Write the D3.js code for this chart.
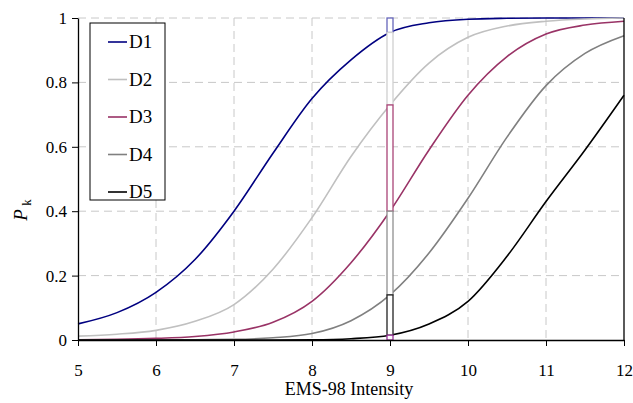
<!DOCTYPE html>
<html>
<head>
<meta charset="utf-8">
<script src="https://cdn.jsdelivr.net/npm/d3@7"></script>
<style>
  body { margin: 0; background: #fff; }
</style>
</head>
<body>
<div id="chart"></div>
<script>
// intensity values where the curves were read
const intensity = [5, 5.5, 6, 6.5, 7, 7.5, 8, 8.5, 9, 9.5, 10, 10.5, 11, 11.5, 12];
const seriesNames = ["D1", "D2", "D3", "D4", "D5"];
const d1 = [0.05, 0.085, 0.148, 0.25, 0.40, 0.58, 0.75, 0.87, 0.955, 0.985, 0.996, 0.999, 1, 1, 1];
const d2 = [0.012, 0.018, 0.03, 0.058, 0.11, 0.22, 0.38, 0.57, 0.73, 0.86, 0.94, 0.975, 0.99, 0.997, 1];
const d3v = [0.001, 0.002, 0.005, 0.011, 0.025, 0.055, 0.12, 0.24, 0.40, 0.59, 0.76, 0.88, 0.95, 0.978, 0.99];
const d4 = [0, 0, 0, 0.001, 0.002, 0.007, 0.02, 0.06, 0.14, 0.27, 0.44, 0.63, 0.79, 0.89, 0.945];
const d5 = [0, 0, 0, 0, 0, 0, 0.0005, 0.004, 0.015, 0.05, 0.12, 0.26, 0.43, 0.59, 0.76];
const seriesValues = [d1, d2, d3v, d4, d5];
const xTicks = [5, 6, 7, 8, 9, 10, 11, 12];
const yTicks = [0, 0.2, 0.4, 0.6, 0.8, 1];
const barAt = 9;

const colors = ["#000080", "#c0c0c0", "#993366", "#808080", "#000000"];
const serif = "'Liberation Serif', 'Times New Roman', Times, 'DejaVu Serif', serif";

const width = 633, height = 403;
const margin = { top: 18, right: 9, bottom: 63, left: 78 };
const w = width - margin.left - margin.right;
const h = height - margin.top - margin.bottom;

const svg = d3.select("#chart").append("svg")
  .attr("width", width).attr("height", height)
  .style("font-family", serif);

const x = d3.scaleLinear().domain([5, 12]).range([0, w]);
const y = d3.scaleLinear().domain([0, 1]).range([h, 0]);

const g = svg.append("g").attr("transform", `translate(${margin.left},${margin.top})`);

// grid
g.selectAll(".vgrid").data(xTicks.slice(1, -1)).enter().append("line")
  .attr("x1", d => x(d)).attr("x2", d => x(d)).attr("y1", 0).attr("y2", h)
  .attr("stroke", "#c8c8c8").attr("stroke-dasharray", "8,5");
g.selectAll(".hgrid").data(yTicks.slice(1)).enter().append("line")
  .attr("x1", 0).attr("x2", w).attr("y1", d => y(d)).attr("y2", d => y(d))
  .attr("stroke", "#c8c8c8").attr("stroke-dasharray", "8,5");

// curves
const line = d3.line()
  .x((d, i) => x(intensity[i]))
  .y(d => y(d))
  .curve(d3.curveMonotoneX);

seriesValues.forEach((vals, k) => {
  g.append("path").datum(vals)
    .attr("fill", "none")
    .attr("stroke", colors[k])
    .attr("stroke-width", 1.6)
    .attr("d", line);
});

// stacked bar at intensity 9
const idx = intensity.indexOf(barAt);
const bounds = [1].concat(seriesValues.map(v => v[idx])).concat([0]);
const barColors = ["#6666bb", "#cfcfcf", "#aa4477", "#909090", "#222222", "#993399"];
for (let k = 0; k < bounds.length - 1; k++) {
  g.append("rect")
    .attr("x", x(barAt) - 3)
    .attr("width", 6)
    .attr("y", y(bounds[k]))
    .attr("height", y(bounds[k + 1]) - y(bounds[k]))
    .attr("fill", "white")
    .attr("stroke", barColors[k])
    .attr("stroke-width", 1.3);
}

// axes
const xAxis = g.append("g").attr("transform", `translate(0,${h})`)
  .call(d3.axisBottom(x).tickValues(xTicks).tickSize(6).tickSizeOuter(0).tickFormat(d3.format("d")));
const yAxis = g.append("g")
  .call(d3.axisLeft(y).tickValues(yTicks).tickSize(6).tickSizeOuter(0).tickFormat(d => d === 0 || d === 1 ? d : d3.format(".1f")(d)));

[xAxis, yAxis].forEach(a => {
  a.attr("font-family", null).attr("font-size", null);
  a.select(".domain").attr("stroke", "#000").attr("stroke-width", 1.3);
  a.selectAll(".tick line").attr("stroke", "#000").attr("stroke-width", 1);
  a.selectAll(".tick text").attr("fill", "#000")
    .style("font-family", serif).style("font-size", "17px");
});
xAxis.selectAll(".tick text").attr("y", 24);
yAxis.selectAll(".tick text").attr("x", -11);

// right border
g.append("line").attr("x1", w).attr("x2", w).attr("y1", 0).attr("y2", h)
  .attr("stroke", "#000").attr("stroke-width", 1.3);

// axis titles
svg.append("text")
  .attr("x", margin.left + w / 2 - 2).attr("y", 395)
  .attr("text-anchor", "middle")
  .style("font-family", serif).style("font-size", "18px")
  .text("EMS-98 Intensity");

const yt = svg.append("text")
  .attr("transform", "translate(27,210) rotate(-90)")
  .attr("text-anchor", "middle")
  .style("font-family", serif).style("font-size", "19px");
yt.append("tspan").style("font-style", "italic").text("P");
yt.append("tspan").style("font-size", "13px").attr("dy", 4).text(" k");

// legend
const legend = g.append("g").attr("transform", "translate(12,5)");
legend.append("rect")
  .attr("width", 75).attr("height", 177)
  .attr("fill", "white").attr("stroke", "#000").attr("stroke-width", 1);
const items = legend.selectAll(".item").data(seriesNames).enter().append("g")
  .attr("transform", (d, i) => `translate(0,${19 + i * 37.5})`);
items.append("line")
  .attr("x1", 18).attr("x2", 37).attr("y1", 0).attr("y2", 0)
  .attr("stroke", (d, i) => colors[i]).attr("stroke-width", 1.6);
items.append("text")
  .attr("x", 39).attr("y", 6)
  .style("font-family", serif).style("font-size", "19px")
  .text(d => d);
</script>
</body>
</html>
